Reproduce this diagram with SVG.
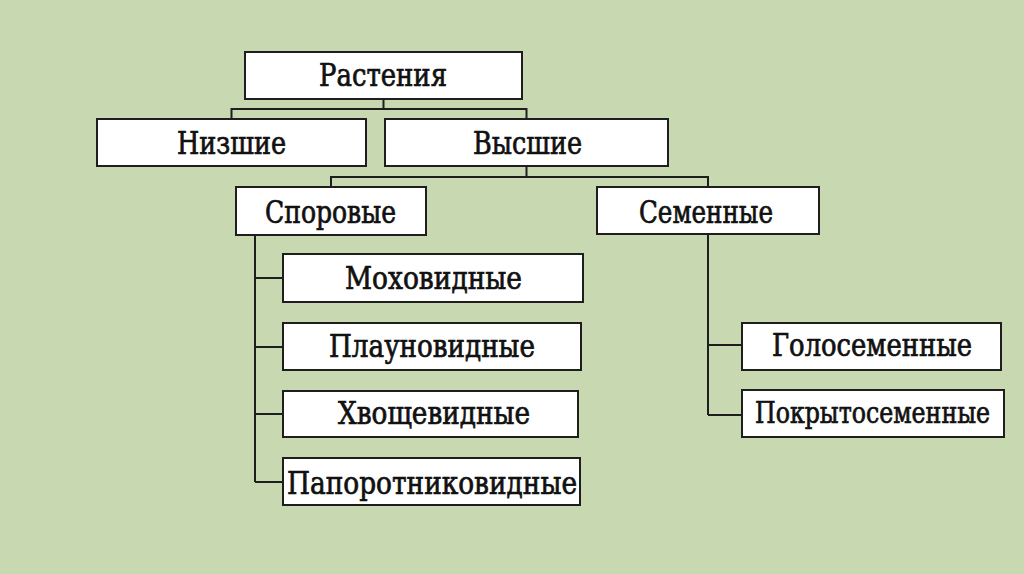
<svg xmlns="http://www.w3.org/2000/svg" width="1024" height="574" viewBox="0 0 1024 574">
<style>
.box{fill:#ffffff;stroke:#1e1e1e;stroke-width:2}
.t{font-family:"DejaVu Serif Condensed","DejaVu Serif","Liberation Serif",serif;font-size:32px;fill:#111;stroke:#111;stroke-width:0.7;text-anchor:middle}
.s{font-size:30px}
.c{fill:none;stroke:#1e1e1e;stroke-width:2}
</style>
<rect width="1024" height="574" fill="#c8d8b0"/>
<g id="connectors">
<path class="c" d="M383.5 99V109M231.5 119V109H526.5V119"/>
<path class="c" d="M526.5 166V177M331 187V177H708V187"/>
<path class="c" d="M255 235V482M255 278H283M255 347H283M255 414H283M255 482H283"/>
<path class="c" d="M708 234V415M708 345H742M708 415H742"/>
</g>
<g id="n-rasteniya"><rect class="box" x="245" y="52" width="277" height="47"/><text class="t" x="383" y="86" textLength="128" lengthAdjust="spacingAndGlyphs">Растения</text></g>
<g id="n-nizshie"><rect class="box" x="97" y="119" width="269" height="47"/><text class="t" x="231.5" y="154" textLength="109" lengthAdjust="spacingAndGlyphs">Низшие</text></g>
<g id="n-vysshie"><rect class="box" x="385" y="119" width="283" height="47"/><text class="t" x="527.5" y="154" textLength="109" lengthAdjust="spacingAndGlyphs">Высшие</text></g>
<g id="n-sporovye"><rect class="box" x="236" y="187" width="190" height="48"/><text class="t" x="330.5" y="223" textLength="131" lengthAdjust="spacingAndGlyphs">Споровые</text></g>
<g id="n-semennye"><rect class="box" x="597" y="187" width="222" height="47"/><text class="t" x="706" y="223" textLength="134" lengthAdjust="spacingAndGlyphs">Семенные</text></g>
<g id="n-mohovidnye"><rect class="box" x="283" y="254" width="300" height="48"/><text class="t" x="433.5" y="289" textLength="177" lengthAdjust="spacingAndGlyphs">Моховидные</text></g>
<g id="n-plaunovidnye"><rect class="box" x="283" y="323" width="298" height="47"/><text class="t" x="432" y="357" textLength="206" lengthAdjust="spacingAndGlyphs">Плауновидные</text></g>
<g id="n-hvoshchevidnye"><rect class="box" x="283" y="391" width="295" height="46"/><text class="t" x="434" y="424" textLength="192" lengthAdjust="spacingAndGlyphs">Хвощевидные</text></g>
<g id="n-paporotnikovidnye"><rect class="box" x="283" y="458" width="297" height="47"/><text class="t" x="432" y="494" textLength="290" lengthAdjust="spacingAndGlyphs">Папоротниковидные</text></g>
<g id="n-golosemennye"><rect class="box" x="742" y="323" width="259" height="47"/><text class="t" x="872" y="356" textLength="200" lengthAdjust="spacingAndGlyphs">Голосеменные</text></g>
<g id="n-pokrytosemennye"><rect class="box" x="742" y="390" width="262" height="47"/><text class="t s" x="872.5" y="423" textLength="235" lengthAdjust="spacingAndGlyphs">Покрытосеменные</text></g>
</svg>
